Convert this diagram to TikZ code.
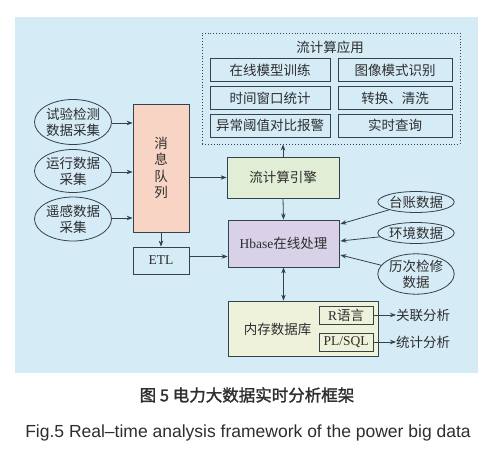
\documentclass[tikz,border=0pt]{standalone}
\usepackage{fontspec}
\setmainfont{Liberation Serif}
\newfontfamily\cjk{Noto Sans CJK SC}
\newfontfamily\cjkb[FakeBold=1.5]{Noto Sans CJK SC}
\newfontfamily\capsans{Liberation Sans}
\usetikzlibrary{arrows.meta,calc,shapes.geometric}
\definecolor{panel}{HTML}{D5EBF6}
\definecolor{lc}{HTML}{34424C}
\definecolor{txt}{HTML}{2E2E2E}
\definecolor{qfill}{HTML}{F8D4C4}
\definecolor{efill}{HTML}{E2EDD6}
\definecolor{hfill}{HTML}{D9D1E7}
\definecolor{dfill}{HTML}{EEF2DA}
\tikzset{
  box/.style={draw=lc, line width=0.8pt, text=txt, inner sep=0pt, font=\fontsize{13.5}{15}\cjk},
  appbox/.style={box, fill=panel, minimum height=23pt},
  ell/.style={draw=lc, line width=0.8pt, ellipse, fill=panel, text=txt, inner sep=0pt, align=center, font=\fontsize{13.5}{16}\cjk},
  arr/.style={draw=lc, line width=0.8pt, -{Stealth[length=6pt,width=4.5pt]}},
  lbl/.style={text=txt, inner sep=0pt, font=\fontsize{13.5}{15}\cjk},
}
\begin{document}
\begin{tikzpicture}[x=1pt,y=-1pt]
\useasboundingbox (0,0) rectangle (500,468);
\fill[white] (0,0) rectangle (500,468);
\fill[panel] (15,17) rectangle (478,373);
% dotted application box
\node[draw=lc, dotted, line width=0.9pt, minimum width=258pt, minimum height=111pt, inner sep=0pt] (apps) at (331,88.5) {};
\node[lbl] (apptitle) at (330,47) {流计算应用};
\node[appbox, minimum width=120pt] (a1) at (270,70) {在线模型训练};
\node[appbox, minimum width=114pt] (a2) at (395,70) {图像模式识别};
\node[appbox, minimum width=120pt] (a3) at (270,98) {时间窗口统计};
\node[appbox, minimum width=114pt] (a4) at (395,98) {转换、清洗};
\node[appbox, minimum width=120pt] (a5) at (270,125.5) {异常阈值对比报警};
\node[appbox, minimum width=114pt] (a6) at (395,125.5) {实时查询};
% main boxes
\node[box, fill=qfill, minimum width=56pt, minimum height=128pt, align=center, font=\fontsize{13.5}{16.5}\cjk] (q) at (161,168) {消\\息\\队\\列};
\node[box, fill=panel, minimum width=56pt, minimum height=27pt, font=\fontsize{13.5}{15}\selectfont] (etl) at (161,260.5) {ETL};
\node[box, fill=efill, minimum width=112pt, minimum height=41pt] (se) at (283,177.5) {流计算引擎};
\node[box, fill=hfill, minimum width=111pt, minimum height=47pt] (hb) at (283.5,243.5) {{\fontsize{13.5}{15}\rmfamily Hbase}在线处理};
\node[box, fill=dfill, minimum width=150pt, minimum height=55pt] (db) at (303,328.5) {};
\node[lbl] (dbt) at (277.5,329) {内存数据库};
\node[box, fill=dfill, minimum width=54pt, minimum height=18pt] (r) at (346,315) {{\fontsize{13.5}{15}\rmfamily R}语言};
\node[box, fill=dfill, minimum width=54pt, minimum height=18pt, font=\fontsize{13.5}{15}\rmfamily] (pl) at (346,342) {PL/SQL};
\node[lbl, anchor=west] (t1) at (396,315) {关联分析};
\node[lbl, anchor=west] (t2) at (396,342) {统计分析};
% left ellipses
\node[ell, minimum width=77pt, minimum height=45pt] (l1) at (73,122) {试验检测\\数据采集};
\node[ell, minimum width=77pt, minimum height=43pt] (l2) at (73,171) {运行数据\\采集};
\node[ell, minimum width=77pt, minimum height=44pt] (l3) at (73,219) {遥感数据\\采集};
% right ellipses
\node[ell, minimum width=76pt, minimum height=21pt] (r1) at (416,202) {台账数据};
\node[ell, minimum width=76pt, minimum height=21pt] (r2) at (416,233) {环境数据};
\node[ell, minimum width=76pt, minimum height=40pt] (r3) at (416,274) {历次检修\\数据};
% connectors
\draw[arr] ([yshift=-1pt]l1.east) -- ([yshift=-1pt]l1.east -| q.west);
\draw[arr] ([yshift=-1pt]l2.east) -- ([yshift=-1pt]l2.east -| q.west);
\draw[arr] ([yshift=1pt]l3.east) -- ([yshift=1pt]l3.east -| q.west);
\draw[arr] (q.east |- se.west) -- (se.west);
\draw[arr] (q.south) -- (etl.north);
\draw[arr] ([yshift=4pt]etl.east) -- ([yshift=4pt]etl.east -| hb.west);
\draw[arr] (se.north) -- (se.north |- apps.south);
\draw[arr] (se.south) -- (hb.north);
\draw[draw=lc, line width=0.8pt, {Stealth[length=6pt,width=4.5pt]}-{Stealth[length=6pt,width=4.5pt]}] (hb.south) -- (hb.south |- db.north);
\draw[arr] (r1) -- ([yshift=19.5pt,xshift=1pt]hb.east);
\draw[arr] (r2) -- ([yshift=2.5pt,xshift=1pt]hb.east);
\draw[arr] (r3) -- ([yshift=-11.5pt,xshift=1pt]hb.east);
\draw[arr] (r.east) -- (t1.west);
\draw[arr] (pl.east) -- (t2.west);
% captions
\node[text=txt, inner sep=0pt, font=\fontsize{16.5}{18}\cjkb] (cap1) at (247,395) {图 5 电力大数据实时分析框架};
\node[text=txt, inner sep=0pt, font=\fontsize{17.5}{19}\capsans] (cap2) at (248,433) {Fig.5 Real–time analysis framework of the power big data};
\end{tikzpicture}
\end{document}
